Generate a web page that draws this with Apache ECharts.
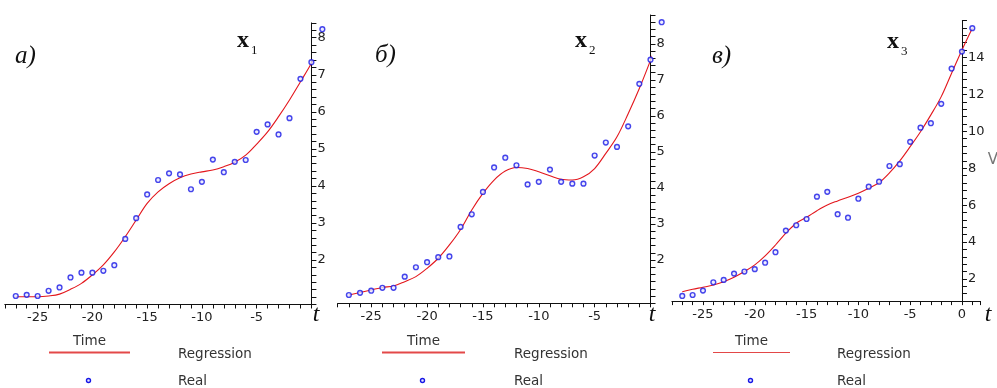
<!DOCTYPE html>
<html>
<head>
<meta charset="utf-8">
<script src="https://cdn.jsdelivr.net/npm/echarts@6/dist/echarts.min.js"></script>
<style>
    html, body {margin: 0; padding: 0; background: #fff;}
    #chart {width: 997px; height: 388px;}
</style>
</head>
<body>
<div id="chart"></div>
<script>
// time points, shared by the three panels
const times = [-27, -26, -25, -24, -23, -22, -21, -20, -19, -18, -17, -16, -15, -14,
    -13, -12, -11, -10, -9, -8, -7, -6, -5, -4, -3, -2, -1, 0, 1];

// x1
const realX1 = [1.03, 1.06, 1.03, 1.17, 1.26, 1.53, 1.66, 1.66, 1.71, 1.86, 2.57, 3.13, 3.77, 4.16,
    4.34, 4.31, 3.91, 4.11, 4.71, 4.37, 4.65, 4.70, 5.46, 5.66, 5.39, 5.83, 6.89, 7.34, 8.23];
const regX1 = [1.01, 1.01, 1.01, 1.03, 1.08, 1.21, 1.37, 1.60, 1.87, 2.22, 2.63, 3.08, 3.53, 3.84,
    4.06, 4.22, 4.32, 4.38, 4.43, 4.52, 4.64, 4.83, 5.13, 5.46, 5.87, 6.32, 6.81, 7.31, 7.89];

// x2
const realX2 = [1.03, 1.09, 1.15, 1.23, 1.23, 1.54, 1.80, 1.94, 2.08, 2.10, 2.92, 3.27, 3.89, 4.57,
    4.84, 4.63, 4.10, 4.17, 4.51, 4.17, 4.12, 4.12, 4.90, 5.26, 5.14, 5.71, 6.89, 7.56, 8.60];
const regX2 = [1.03, 1.10, 1.17, 1.24, 1.28, 1.40, 1.54, 1.77, 2.05, 2.42, 2.85, 3.39, 3.85, 4.22,
    4.47, 4.57, 4.54, 4.45, 4.34, 4.24, 4.22, 4.31, 4.54, 4.96, 5.42, 6.06, 6.76, 7.54, 8.37];

// x3
const realX3 = [1.08, 1.13, 1.37, 1.82, 1.95, 2.29, 2.40, 2.53, 2.88, 3.45, 4.62, 4.91, 5.25, 6.46,
    6.72, 5.51, 5.32, 6.35, 7.00, 7.27, 8.12, 8.22, 9.43, 10.20, 10.44, 11.49, 13.40, 14.32, 15.59];
const regX3 = [1.31, 1.44, 1.55, 1.67, 1.85, 2.09, 2.40, 2.76, 3.25, 3.84, 4.48, 5.02, 5.34, 5.70,
    6.01, 6.23, 6.43, 6.65, 6.92, 7.22, 7.75, 8.40, 9.17, 9.98, 10.89, 11.88, 13.15, 14.41, 15.59];

// axis ranges / ticks
const yRanges = [[0.8, 8.4], [0.8, 8.8], [0.8, 16]];
const yTickSteps = [0.2, 0.2, 0.4];
const yLabelSteps = [1, 1, 2];
const xRanges = [[-28, 0], [-28, 0], [-28, 1.8]];
const panelLetters = ['a)', 'б)', 'в)'];
const subscripts = ['1', '2', '3'];

const panels = [
    {real: realX1, reg: regX1},
    {real: realX2, reg: regX2},
    {real: realX3, reg: regX3}
];

// where each plot sits in the picture
const layout = [
    {left: 4.8, top: 22.9, width: 306.6, height: 281.6, letterX: 15, letterY: 58, nameX: 237, nameY: 41, tX: 316, legX: 49, legW: 81, legText: 178, legLineW: 2},
    {left: 337.7, top: 15.0, width: 312.8, height: 288.3, letterX: 375, letterY: 57, nameX: 575, nameY: 41, tX: 652, legX: 382, legW: 83, legText: 514, legLineW: 2},
    {left: 671.9, top: 20.6, width: 308.7, height: 280.5, letterX: 712, letterY: 58, nameX: 887, nameY: 42, tX: 988, legX: 713, legW: 77, legText: 837, legLineW: 1.2}
];

const labelFont = 'DejaVu Sans';
const serif = 'Liberation Serif';

const grid = [], xAxis = [], yAxis = [], series = [], graphic = [];

panels.forEach((p, k) => {
    const L = layout[k];
    grid.push({left: L.left, top: L.top, width: L.width, height: L.height, containLabel: false, outerBoundsMode: 'none'});

    const xr = xRanges[k];
    xAxis.push({
        gridIndex: k,
        type: 'value',
        min: xr[0],
        max: xr[1],
        interval: 1,
        axisLine: {show: true, onZero: false, lineStyle: {color: '#111', width: 1}},
        axisTick: {show: true, length: 4, lineStyle: {color: '#111', width: 1}},
        axisLabel: {
            margin: 7,
            fontSize: 13,
            fontFamily: labelFont,
            color: '#222',
            formatter: v => {
                if (Math.abs(v - Math.round(v)) > 1e-6) return '';
                const r = Math.round(v);
                if (r % 5 !== 0) return '';
                if (r === 0 && k < 2) return '';
                return String(r);
            }
        },
        splitLine: {show: false}
    });

    const yr = yRanges[k];
    const ls = yLabelSteps[k];
    yAxis.push({
        gridIndex: k,
        type: 'value',
        position: 'right',
        offset: -(xr[1] / (xr[1] - xr[0])) * L.width,
        min: yr[0],
        max: yr[1],
        interval: yTickSteps[k],
        axisLine: {show: true, onZero: false, lineStyle: {color: '#111', width: 1}},
        axisTick: {show: true, length: 5, lineStyle: {color: '#111', width: 1}},
        axisLabel: {
            margin: 6,
            fontSize: 13,
            fontFamily: labelFont,
            color: '#222',
            formatter: v => {
                const r = Math.round(v);
                if (Math.abs(v - r) > 1e-6) return '';
                if (r < 2 || r % ls !== 0 || r > yr[1] - 0.1) return '';
                return String(r);
            }
        },
        splitLine: {show: false}
    });

    series.push({
        type: 'line',
        xAxisIndex: k,
        yAxisIndex: k,
        data: times.map((t, i) => [t, p.reg[i]]),
        smooth: 0.35,
        showSymbol: false,
        clip: false,
        lineStyle: {color: '#e3161c', width: 1.1},
        z: 2
    });
    series.push({
        type: 'scatter',
        xAxisIndex: k,
        yAxisIndex: k,
        data: times.map((t, i) => [t, p.real[i]]),
        symbol: 'circle',
        symbolSize: 4.8,
        clip: false,
        itemStyle: {color: '#e8e8ff', borderColor: '#1818e6', borderWidth: 1.4},
        z: 3
    });

    // panel letter and variable name
    graphic.push({type: 'text', left: L.letterX, top: L.letterY - 14,
        style: {text: panelLetters[k], font: 'italic 25px ' + serif, fill: '#111'}});
    graphic.push({type: 'text', x: L.nameX, y: L.nameY,
        style: {text: 'x', font: 'bold 24px ' + serif, fill: '#111', verticalAlign: 'middle'}});
    graphic.push({type: 'text', x: L.nameX + 14, y: L.nameY + 10,
        style: {text: subscripts[k], font: '13px ' + serif, fill: '#111', verticalAlign: 'middle'}});
    // axis name t
    graphic.push({type: 'text', x: L.tX, y: 315,
        style: {text: 't', font: 'italic 24px ' + serif, fill: '#111', align: 'center', verticalAlign: 'middle'}});

    // legend block
    graphic.push({type: 'text', x: L.legX + L.legW / 2, y: 341,
        style: {text: 'Time', font: '13.5px ' + labelFont, fill: '#333', align: 'center', verticalAlign: 'middle'}});
    graphic.push({type: 'line', shape: {x1: L.legX, y1: 352.5, x2: L.legX + L.legW, y2: 352.5},
        style: {stroke: '#e34848', lineWidth: L.legLineW}});
    graphic.push({type: 'text', x: L.legText, y: 354,
        style: {text: 'Regression', font: '13.5px ' + labelFont, fill: '#333', verticalAlign: 'middle'}});
    graphic.push({type: 'circle', shape: {cx: L.legX + L.legW / 2 - 1, cy: 380.5, r: 2},
        style: {fill: '#e8e8ff', stroke: '#1818e6', lineWidth: 1.4}});
    graphic.push({type: 'text', x: L.legText, y: 381,
        style: {text: 'Real', font: '13.5px ' + labelFont, fill: '#333', verticalAlign: 'middle'}});
});

graphic.push({type: 'text', x: 993, y: 160,
    style: {text: 'V', font: '15px ' + labelFont, fill: '#777', align: 'center', verticalAlign: 'middle'}});

const chart = echarts.init(document.getElementById('chart'));
chart.setOption({
    animation: false,
    backgroundColor: '#fff',
    grid: grid,
    xAxis: xAxis,
    yAxis: yAxis,
    series: series,
    graphic: graphic
});
</script>
</body>
</html>
